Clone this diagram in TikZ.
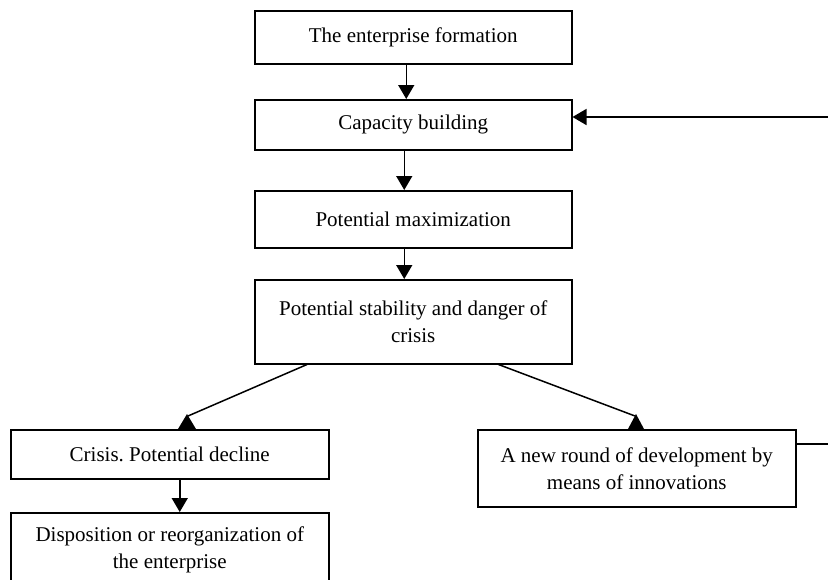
\documentclass[tikz,border=0pt]{standalone}
\usepackage{fontspec}
\setmainfont{Liberation Serif}
\usetikzlibrary{arrows.meta,calc}
\frenchspacing
\tikzset{
  stagebox/.style={draw, line width=1.5pt, inner sep=0pt, align=center, anchor=north west,
    font=\fontsize{21}{27}\selectfont},
  conn/.style={line width=1.5pt},
  arr/.style={conn, -{Triangle[width=16pt,length=14pt]}},
  headfill/.style={fill=black}
}
\begin{document}
\begin{tikzpicture}[x=1pt,y=-1pt]
\useasboundingbox (0,0) rectangle (828,579);
\clip (0,0) rectangle (828,579);
\node[stagebox, minimum width=317pt, minimum height=53pt] (b1) at (254,10) {The enterprise formation};
\node[stagebox, minimum width=317pt, minimum height=50pt] (b2) at (254,99) {Capacity building};
\node[stagebox, minimum width=317pt, minimum height=57pt] (b3) at (254,190) {Potential maximization};
\node[stagebox, minimum width=317pt, minimum height=84pt] (b4) at (254,279) {Potential stability and danger of\\crisis};
\node[stagebox, minimum width=318pt, minimum height=49pt] (b5) at (10,429) {Crisis. Potential decline};
\node[stagebox, minimum width=318pt, minimum height=77pt] (b6) at (477,429) {A new round of development by\\means of innovations};
\node[stagebox, minimum width=318pt, minimum height=75pt] (b7) at (10,512) {Disposition or reorganization of\\the enterprise};

\draw[arr] ([xshift=-7pt]b1.south) -- ([xshift=-7pt]b2.north);
\draw[arr] ([xshift=-9pt]b2.south) -- ([xshift=-9pt]b3.north);
\draw[arr] ([xshift=-9pt]b3.south) -- ([xshift=-9pt]b4.north);
\draw[arr] ([xshift=10pt]b5.south) -- ([xshift=10pt]b7.north);

% diagonal connectors with upright heads
\coordinate (t5) at ($(b5.north west)+(177,0)$);
\coordinate (t6) at ($(b6.north west)+(159,0)$);
\draw[conn] ($(b4.south west)+(53,0)$) -- ($(t5)+(1,-13)$);
\fill[headfill] ($(t5)+(-9,0)$) -- ($(t5)+(9,0)$) -- ($(t5)+(0,-15)$) -- cycle;
\draw[conn] ($(b4.south east)+(-74,0)$) -- ($(t6)+(-1,-13)$);
\fill[headfill] ($(t6)+(-8,0)$) -- ($(t6)+(8,0)$) -- ($(t6)+(0,-15)$) -- cycle;

% feedback loop off the right edge
\coordinate (rt) at (840,0);
\coordinate (s6) at ($(b6.north east)+(0,15)$);
\coordinate (e2) at ($(b2.north east)+(0,18)$);
\draw[arr] (s6) -- (s6 -| rt) -- (e2 -| rt) -- (e2);
\end{tikzpicture}
\end{document}
